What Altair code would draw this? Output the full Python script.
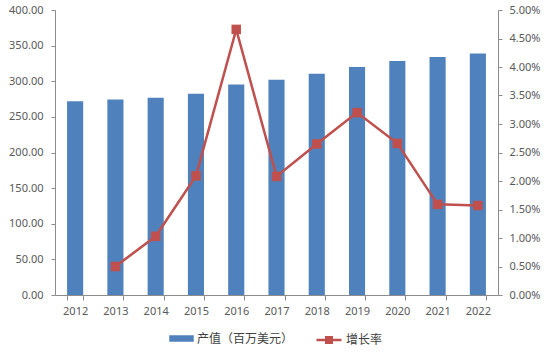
import altair as alt
import pandas as pd

years = [str(y) for y in range(2012, 2023)]
output = [272, 274.5, 277, 282.5, 295.5, 302, 310.5, 320, 328.5, 334, 339]
growth_years = years[1:]
growth = [0.0050, 0.0103, 0.0209, 0.0466, 0.0208, 0.0265, 0.0320, 0.0266, 0.0159, 0.0157]

bar_name = "产值（百万美元）"
line_name = "增长率"
BLUE = "#4F81BD"
RED = "#C0504D"
AXIS_GRAY = "#8C8C8C"
TEXT = "#595959"

df_bar = pd.DataFrame({"year": years, "value": output, "series": bar_name})
df_line = pd.DataFrame({"year": growth_years, "growth": growth, "series": line_name})

x_axis = alt.Axis(title=None, labelAngle=0, tickBand="extent", tickSize=5,
                  labelPadding=5, domainColor=AXIS_GRAY, tickColor=AXIS_GRAY,
                  labelColor=TEXT, labelFont="Noto Sans", labelFontSize=11, grid=False)
x_scale = alt.Scale(paddingInner=0.6, paddingOuter=0.3)

y_right_axis = alt.Axis(title=None, orient="right",
                        values=[i * 0.005 for i in range(11)], format=".2%",
                        tickSize=4, labelPadding=7, grid=False,
                        domainColor=AXIS_GRAY, tickColor=AXIS_GRAY,
                        labelColor=TEXT, labelFont="Noto Sans", labelFontSize=11)
y_right_scale = alt.Scale(domain=[0, 0.05], nice=False)

common_legend = dict(title=None, orient="none", direction="horizontal",
                     labelFont="Noto Sans CJK SC", labelFontSize=12, labelColor="#404040",
                     symbolSize=625, labelOffset=3, padding=0)

bars = alt.Chart(df_bar).mark_bar().encode(
    x=alt.X("year:N", scale=x_scale, axis=x_axis, sort=years),
    y=alt.Y("value:Q", scale=alt.Scale(domain=[0, 400], nice=False),
            axis=alt.Axis(title=None, values=list(range(0, 401, 50)), format=".2f",
                          tickSize=4, labelPadding=8, grid=False,
                          domainColor=AXIS_GRAY, tickColor=AXIS_GRAY,
                          labelColor=TEXT, labelFont="Noto Sans", labelFontSize=11)),
    color=alt.Color("series:N", scale=alt.Scale(domain=[bar_name], range=[BLUE]),
                    legend=alt.Legend(legendX=114, legendY=316,
                                      symbolType="M-0.98,-0.26H0.98V0.26H-0.98Z",
                                      symbolStrokeWidth=0,
                                      **common_legend)),
)

line = alt.Chart(df_line).mark_line(strokeWidth=2.5, color=RED).encode(
    x=alt.X("year:N", scale=x_scale, axis=x_axis, sort=years),
    y=alt.Y("growth:Q", scale=y_right_scale, axis=y_right_axis),
)

points = alt.Chart(df_line).mark_point(shape="square", size=90, filled=True, opacity=1).encode(
    x=alt.X("year:N", scale=x_scale, axis=x_axis, sort=years),
    y=alt.Y("growth:Q", scale=y_right_scale, axis=y_right_axis),
    color=alt.Color("series:N", scale=alt.Scale(domain=[line_name], range=[RED]),
                    legend=alt.Legend(legendX=260, legendY=316,
                                      symbolType="M-1,0H1M-0.22,-0.22H0.22V0.22H-0.22Z",
                                      symbolStrokeColor=RED, symbolStrokeWidth=2.5,
                                      symbolFillColor=RED,
                                      **common_legend)),
)

right = alt.layer(line, points)

chart = alt.layer(bars, right).resolve_scale(y="independent", color="independent").resolve_legend(
    color="independent").properties(
    width=443, height=285,
    autosize=alt.AutoSizeParams(type="none"),
    padding={"left": 55, "top": 10, "right": 46, "bottom": 58},
    background="white",
).configure_view(stroke=None)

chart.save("out.html", embed_options={"renderer": "svg", "actions": False})
